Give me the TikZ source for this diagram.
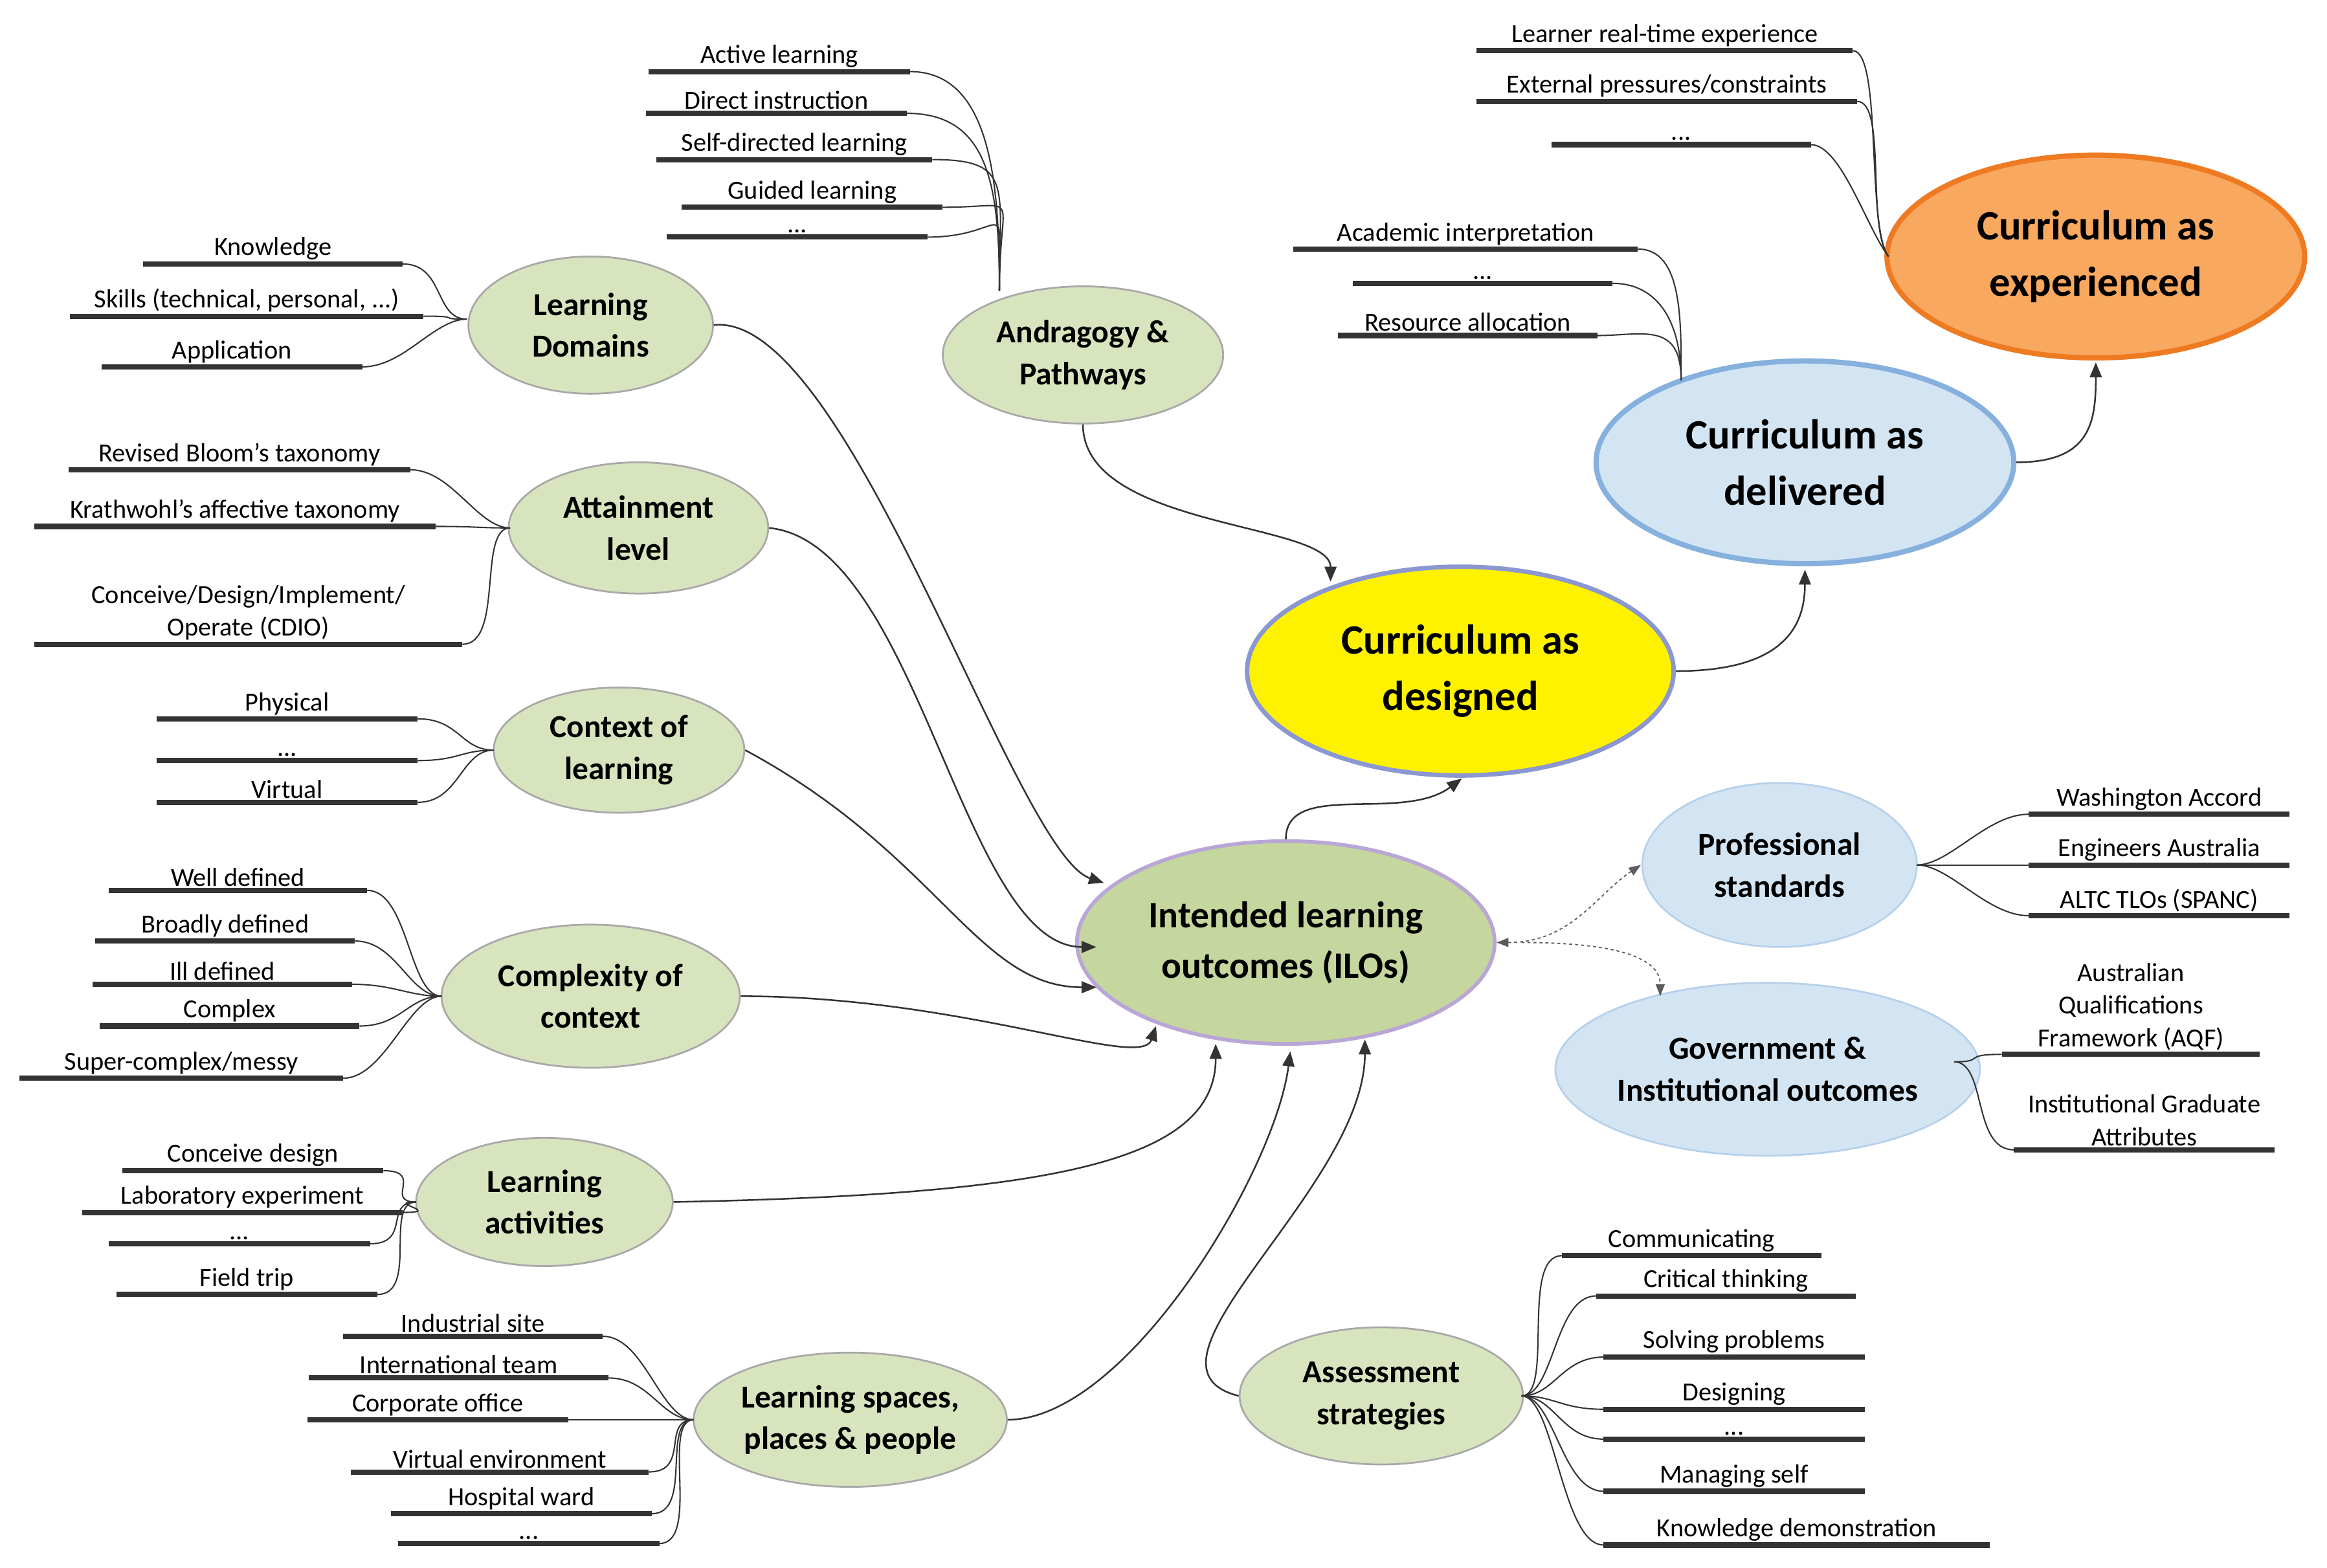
\documentclass[tikz,border=0pt]{standalone}
\usepackage{fontspec}
\setmainfont{Carlito}
\usetikzlibrary{shapes.geometric,arrows.meta}
\definecolor{gfill}{HTML}{D8E4BE}
\definecolor{gline}{HTML}{A8A8A8}
\definecolor{ilofill}{HTML}{C5D69E}
\definecolor{ilo}{HTML}{B9A6D6}
\definecolor{yline}{HTML}{8A97D0}
\definecolor{bfill}{HTML}{D3E5F3}
\definecolor{bline}{HTML}{86B0DD}
\definecolor{ofill}{HTML}{F9A860}
\definecolor{oline}{HTML}{EE7A22}
\definecolor{dk}{HTML}{333333}
\tikzset{
 bar/.style={line width=3.5pt,draw=dk},
 leaftext/.style={anchor=south,inner sep=2.5pt,font=\fontsize{17.5}{22}\selectfont,align=center,text=black},
 link/.style={draw=dk,line width=0.9pt},
 arr/.style={draw=dk,line width=1.1pt,-{Triangle[length=10pt,width=8pt]}},
 dotarr/.style={draw=dk!80,line width=0.8pt,dash pattern=on 2pt off 2pt,-{Triangle[length=8pt,width=6pt]}},
 sub/.style={ellipse,inner sep=0,fill=gfill,draw=gline,line width=1.2pt,align=center,font=\bfseries\fontsize{21.5}{28}\selectfont},
 bsub/.style={sub,fill=bfill,draw=bline!60},
 big/.style={ellipse,inner sep=0,align=center,font=\bfseries\fontsize{28}{38}\selectfont},
}
\newcommand\leaf[5]{\coordinate (#1L) at (#2,#4); \coordinate (#1R) at (#3,#4);
 \draw[bar] (#1L)--(#1R); \node[leaftext] (#1T) at ({(#2+#3)/2},#4) {#5};}
\newcommand\tol[2]{\draw[link] (#1R) .. controls +(28,0) and +(-22,0) .. (#2);}
\newcommand\tor[2]{\draw[link] (#1L) .. controls +(-28,0) and +(22,0) .. (#2);}
\begin{document}
\begin{tikzpicture}[x=1pt,y=-1pt]
\useasboundingbox (0,0) rectangle (1560,1051);
% ellipses
\node[sub,minimum width=164pt,minimum height=92pt] (ld) at (396,218) {Learning\\Domains};
\node[sub,minimum width=188pt,minimum height=92pt] (ap) at (726,238) {Andragogy \&\\Pathways};
\node[sub,minimum width=174pt,minimum height=88pt] (al) at (428,354) {Attainment\\level};
\node[sub,minimum width=168pt,minimum height=84pt] (cl) at (415,503) {Context of\\learning};
\node[sub,minimum width=200pt,minimum height=96pt] (cc) at (396,668) {Complexity of\\context};
\node[sub,minimum width=172pt,minimum height=86pt] (la) at (365,806) {Learning\\activities};
\node[sub,minimum width=210pt,minimum height=90pt] (ls) at (570,952) {Learning spaces,\\places \& people};
\node[sub,minimum width=190pt,minimum height=92pt] (as) at (926,936) {Assessment\\strategies};
\node[bsub,minimum width=184pt,minimum height=110pt] (ps) at (1193,580) {Professional\\standards};
\node[bsub,minimum width=244pt,minimum height=116pt] (gi) at (1185,717) {Government \&\\Institutional outcomes};
\node[sub,fill=ilofill,draw=ilo,line width=2.5pt,minimum width=280pt,minimum height=136pt,font=\bfseries\fontsize{25}{34}\selectfont] (ilo) at (862,632) {Intended learning\\outcomes (ILOs)};
\node[big,fill=yellow,draw=yline,line width=3pt,minimum width=286pt,minimum height=140pt] (cd) at (979,450) {Curriculum as\\designed};
\node[big,fill=bfill,draw=bline,line width=3.5pt,minimum width=280pt,minimum height=136pt] (cv) at (1210,310) {Curriculum as\\delivered};
\node[big,fill=ofill,draw=oline,line width=3.5pt,minimum width=280pt,minimum height=136pt] (ce) at (1405,172) {Curriculum as\\experienced};
% hubs
\coordinate (hld) at (313,214); \coordinate (hap) at (670,195); \coordinate (hal) at (342,354);
\coordinate (hcl) at (331,503); \coordinate (hcc) at (296,668); \coordinate (hla) at (279,806);
\coordinate (hls) at (465,952); \coordinate (has) at (1020,936); \coordinate (hps) at (1285,580);
\coordinate (hgi) at (1310,712); \coordinate (hcv) at (1127,255); \coordinate (hce) at (1266,172);
% Learning domains
\leaf{k}{96}{270}{177}{Knowledge} \tol{k}{hld}
\leaf{s}{47}{284}{212}{Skills (technical, personal, ...)} \tol{s}{hld}
\leaf{a}{68}{243}{246}{Application} \tol{a}{hld}
% Andragogy
\leaf{p1}{435}{610}{48}{Active learning}
\leaf{p2}{433}{608}{76}{Direct instruction}
\leaf{p3}{440}{625}{107}{Self-directed learning}
\leaf{p4}{457}{632}{139}{Guided learning}
\leaf{p5}{447}{622}{159}{...}
\foreach \i in {p1,p2,p3,p4,p5}{\draw[link] (\i R) .. controls +(55,0) and +(0,-70) .. (hap);}
% Attainment
\leaf{b1}{46}{275}{315}{Revised Bloom's taxonomy} \tol{b1}{hal}
\leaf{b2}{23}{292}{353}{Krathwohl's affective taxonomy} \tol{b2}{hal}
\leaf{b3}{23}{310}{432}{Conceive/Design/Implement/\\Operate (CDIO)} \tol{b3}{hal}
% Context
\leaf{c1}{105}{280}{482}{Physical} \tol{c1}{hcl}
\leaf{c2}{105}{280}{510}{...} \tol{c2}{hcl}
\leaf{c3}{105}{280}{538}{Virtual} \tol{c3}{hcl}
% Complexity
\leaf{x1}{73}{246}{597}{Well defined} \tol{x1}{hcc}
\leaf{x2}{64}{238}{631}{Broadly defined} \tol{x2}{hcc}
\leaf{x3}{62}{236}{660}{Ill defined} \tol{x3}{hcc}
\leaf{x4}{67}{241}{688}{Complex} \tol{x4}{hcc}
\leaf{x5}{13}{230}{723}{Super-complex/messy} \tol{x5}{hcc}
% Activities
\leaf{y1}{82}{257}{785}{Conceive design} \tol{y1}{hla}
\leaf{y2}{55}{270}{813}{Laboratory experiment} \tol{y2}{hla}
\leaf{y3}{73}{248}{834}{...} \tol{y3}{hla}
\leaf{y4}{78}{253}{868}{Field trip} \tol{y4}{hla}
% Spaces
\leaf{z1}{230}{404}{896}{Industrial site} \tol{z1}{hls}
\leaf{z2}{207}{408}{924}{International team} \tol{z2}{hls}
\leaf{z3}{206}{381}{952}{Corporate office} \tol{z3}{hls}
\leaf{z4}{235}{435}{987}{Virtual environment} \tol{z4}{hls}
\leaf{z5}{262}{437}{1015}{Hospital ward} \tol{z5}{hls}
\leaf{z6}{267}{442}{1035}{...} \tol{z6}{hls}
% Assessment
\leaf{w1}{1047}{1221}{842}{Communicating} \tor{w1}{has}
\leaf{w2}{1070}{1244}{869}{Critical thinking} \tor{w2}{has}
\leaf{w3}{1075}{1250}{910}{Solving problems} \tor{w3}{has}
\leaf{w4}{1075}{1250}{945}{Designing} \tor{w4}{has}
\leaf{w5}{1075}{1250}{965}{...} \tor{w5}{has}
\leaf{w6}{1075}{1250}{1000}{Managing self} \tor{w6}{has}
\leaf{w7}{1075}{1334}{1036}{Knowledge demonstration} \tor{w7}{has}
% Professional
\leaf{q1}{1360}{1535}{546}{Washington Accord} \tor{q1}{hps}
\leaf{q2}{1360}{1535}{580}{Engineers Australia} \tor{q2}{hps}
\leaf{q3}{1360}{1535}{614}{ALTC TLOs (SPANC)} \tor{q3}{hps}
% Government
\leaf{g1}{1342}{1515}{707}{Australian\\Qualifications\\Framework (AQF)} \tor{g1}{hgi}
\leaf{g2}{1350}{1525}{771}{Institutional Graduate\\Attributes} \tor{g2}{hgi}
% Delivered
\leaf{d1}{867}{1098}{167}{Academic interpretation}
\leaf{d2}{907}{1081}{190}{...}
\leaf{d3}{897}{1071}{225}{Resource allocation}
\foreach \i in {d1,d2,d3}{\draw[link] (\i R) .. controls +(30,0) and +(0,-40) .. (hcv);}
% Experienced
\leaf{e1}{990}{1242}{34}{Learner real-time experience}
\leaf{e2}{990}{1245}{68}{External pressures/constraints}
\leaf{e3}{1040}{1214}{97}{...}
\foreach \i in {e1,e2,e3}{\draw[link] (\i R) .. controls +(20,0) and +(-15,-20) .. (hce);}
% arrows to ILO
\draw[arr] (ld.east) .. controls +(90,-10) and +(-60,-20) .. (740,592);
\draw[arr] (al.east) .. controls +(100,10) and +(-90,0) .. (735,635);
\draw[arr] (cl.east) .. controls +(130,70) and +(-80,0) .. (735,662);
\draw[arr] (cc.east) .. controls +(150,0) and +(-10,30) .. (775,688);
\draw[arr] (la.east) .. controls +(250,-5) and +(0,80) .. (815,700);
\draw[arr] (ls.east) .. controls +(80,0) and +(-10,80) .. (865,705);
\draw[arr] (as.west) .. controls +(-80,-20) and +(0,100) .. (915,697);
\draw[arr] (ap.south) .. controls +(0,70) and +(0,-40) .. (892,390);
\draw[arr] (ilo.north) .. controls +(0,-40) and +(-40,30) .. (980,522);
\draw[arr] (cd.east) .. controls +(70,0) and +(0,40) .. (1210,382);
\draw[arr] (cv.east) .. controls +(50,0) and +(0,40) .. (1405,243);
\draw[dotarr,{Triangle[length=8pt,width=6pt]}-{Triangle[length=8pt,width=6pt]}] (ilo.east) .. controls +(50,0) and +(-30,20) .. (1100,580);
\draw[dotarr] (1020,632) .. controls +(80,0) and +(0,-20) .. (1113,668);
\end{tikzpicture}
\end{document}
